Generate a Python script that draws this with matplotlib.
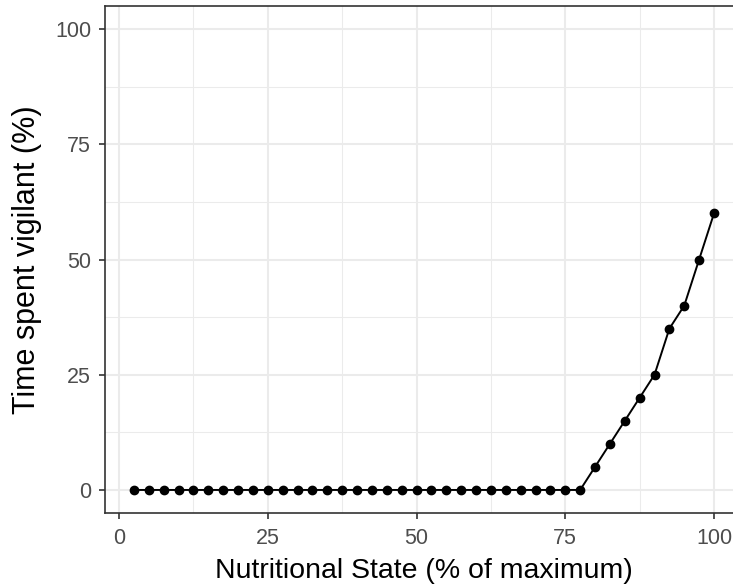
import matplotlib
matplotlib.use("Agg")
import matplotlib.pyplot as plt
from matplotlib.ticker import MultipleLocator

nutritional_state = [2.5, 5, 7.5, 10, 12.5, 15, 17.5, 20, 22.5, 25,
                     27.5, 30, 32.5, 35, 37.5, 40, 42.5, 45, 47.5, 50,
                     52.5, 55, 57.5, 60, 62.5, 65, 67.5, 70, 72.5, 75,
                     77.5, 80, 82.5, 85, 87.5, 90, 92.5, 95, 97.5, 100]
time_vigilant = [0, 0, 0, 0, 0, 0, 0, 0, 0, 0,
                 0, 0, 0, 0, 0, 0, 0, 0, 0, 0,
                 0, 0, 0, 0, 0, 0, 0, 0, 0, 0,
                 0, 5, 10, 15, 20, 25, 35, 40, 50, 60]
x_ticks = [0, 25, 50, 75, 100]
y_ticks = [0, 25, 50, 75, 100]

plt.rcParams['font.family'] = ['Liberation Sans', 'DejaVu Sans']

W, H = 733, 587
fig = plt.figure(figsize=(W / 100, H / 100), dpi=100)
left, right, top, bottom = 105, 743, 6, 513
ax = fig.add_axes([left / W, 1 - bottom / H, (right - left) / W, (bottom - top) / H])

ax.plot(nutritional_state, time_vigilant, color='black', linewidth=1.4,
        marker='o', markersize=6, zorder=3, clip_on=False)

ax.set_xlim(-2.375, 104.875)
ax.set_ylim(-5, 105)
ax.set_xticks(x_ticks)
ax.set_yticks(y_ticks)
ax.xaxis.set_minor_locator(MultipleLocator(12.5))
ax.yaxis.set_minor_locator(MultipleLocator(12.5))

ax.grid(which='major', color='#EBEBEB', linewidth=1.5, zorder=0)
ax.grid(which='minor', color='#EBEBEB', linewidth=0.75, zorder=0)
ax.set_axisbelow(True)

for s in ax.spines.values():
    s.set_color('#333333')
    s.set_linewidth(1.2)

ax.tick_params(axis='x', which='major', length=4.5, width=1.2, color='#333333',
               labelcolor='#4D4D4D', labelsize=15.5, pad=6.5)
ax.tick_params(axis='y', which='major', length=4.5, width=1.2, color='#333333',
               labelcolor='#4D4D4D', labelsize=15.5, pad=5.5)
ax.tick_params(axis='both', which='minor', length=0)

ax.set_xlabel('Nutritional State (% of maximum)', fontsize=20.5, color='black', labelpad=6)
ax.set_ylabel('Time spent vigilant (%)', fontsize=22, color='black', labelpad=9)

fig.savefig('out.png', dpi=100)
